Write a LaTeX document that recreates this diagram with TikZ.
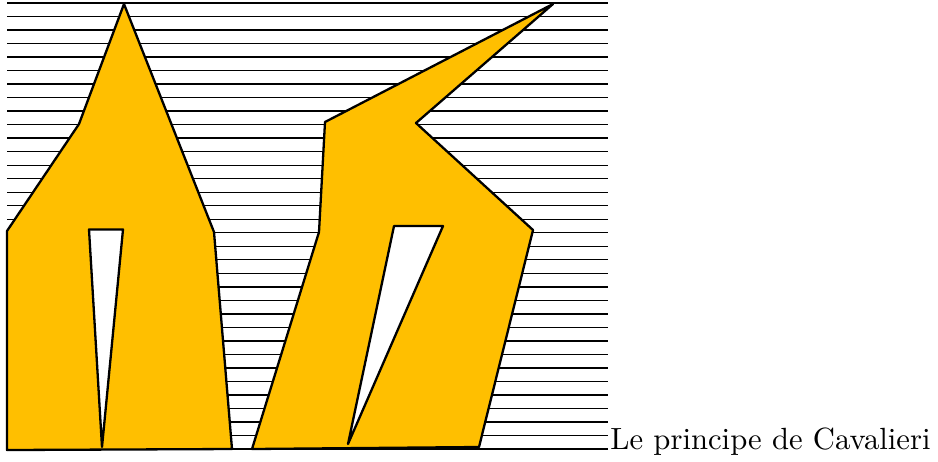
\documentclass[tikz,border=0pt]{standalone}
\usepackage{tikz}
\usetikzlibrary{positioning}
\definecolor{gold}{HTML}{FFBF00}
\tikzset{sliceline/.style={line width=.45pt,black}, solid/.style={draw=black,fill=gold,line width=.75pt,line join=round}, hole/.style={draw=black,fill=white,line width=.75pt,line join=round}, caption/.style={font=\normalsize,anchor=base west,inner sep=.6pt}}

\begin{document}
\begin{tikzpicture}[x=0.01146cm,y=-0.01146cm]
\useasboundingbox (0,0) rectangle (938,461);
\foreach \i in {0,...,33} \draw[sliceline] (7,{3+\i*13.515}) -- (608,{3+\i*13.515});
\draw[solid] (7,450)--(7,231)--(79,124)--(124,4)--(214,232)--(232,449)--cycle;
\draw[hole] (89,229.5)--(123,229.5)--(102,447)--cycle;
\draw[solid] (252,449)--(319,232)--(325,122)--(553,4)--(416,123)--(533,230)--(479,447)--cycle;
\draw[hole] (394,226)--(443,226)--(348,444)--cycle;
\node[caption] (title) at (608,449) {Le principe de Cavalieri};
\end{tikzpicture}
\end{document}
